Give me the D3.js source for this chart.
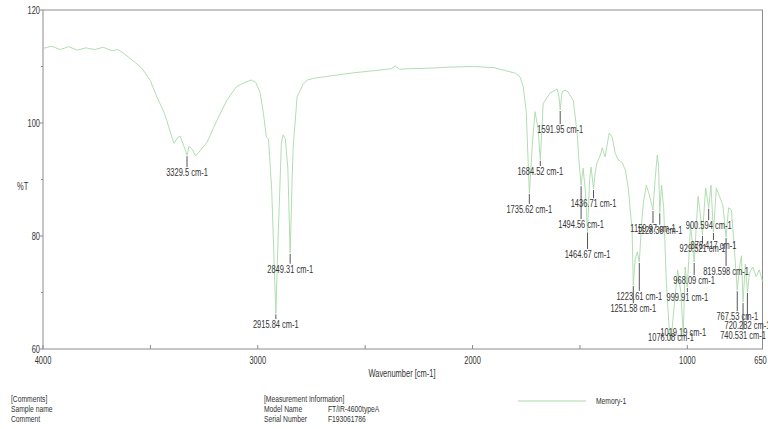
<!DOCTYPE html>
<html>
<head>
<meta charset="utf-8">
<script src="https://cdn.jsdelivr.net/npm/d3@7"></script>
<style>
  body { margin: 0; background: #fff; }
  svg text { font-family: "Liberation Sans", Arial, sans-serif; fill: #333; }
</style>
</head>
<body>
<div id="wrapper"></div>
<script>
// spectrum (wavenumber cm-1, %T)
const wavenumbers = [4000, 3960, 3920, 3880, 3840, 3800, 3760, 3720, 3680, 3650, 3620, 3600, 3560, 3534, 3500, 3470, 3440, 3424, 3400, 3390, 3375, 3362, 3343, 3329.5, 3320, 3305, 3290, 3275, 3236, 3190, 3143, 3100, 3060, 3030, 3010, 2990, 2974, 2960, 2950, 2935, 2915.84, 2905, 2890, 2882, 2872, 2860, 2849.31, 2840, 2835, 2817, 2790, 2770, 2740, 2650, 2550, 2450, 2380, 2360, 2340, 2300, 2200, 2100, 2000, 1900, 1850, 1800, 1778, 1764, 1750, 1735.62, 1720, 1709, 1695, 1684.52, 1671, 1639, 1606, 1597, 1591.95, 1583, 1569, 1555, 1531, 1513, 1505, 1494.56, 1485, 1475, 1464.67, 1455, 1448, 1436.71, 1428, 1420, 1408, 1396, 1383, 1364, 1350, 1336, 1322, 1303, 1289, 1275, 1257, 1251.58, 1243, 1233, 1223.61, 1214, 1205, 1191, 1177, 1159.97, 1150, 1140, 1134, 1128.38, 1120, 1110, 1098, 1085, 1076.08, 1065, 1045, 1030, 1019.19, 1010, 999.91, 985, 968.09, 950, 940, 929.521, 915, 900.594, 890, 878.417, 865, 850, 835, 819.598, 808, 795, 785, 767.53, 755, 748, 740.531, 730, 720.282, 710, 695, 680, 665, 650];
const transmittance = [113.2, 113.6, 113.0, 113.5, 112.9, 113.3, 113.0, 113.4, 112.8, 113.0, 112.2, 111.6, 110.4, 109.4, 107.5, 104.6, 102.2, 100.5, 97.5, 96.4, 97.3, 97.7, 95.8, 94.3, 95.9, 95.3, 94.2, 94.8, 96.6, 100.5, 104.1, 106.4, 107.2, 107.6, 107.2, 105.5, 101.8, 97.5, 97.2, 88, 66.3, 80, 96.5, 97.9, 97.2, 92, 77, 90, 95.8, 104.6, 106.8, 107.6, 107.9, 108.4, 108.9, 109.3, 109.6, 110.1, 109.5, 109.6, 109.7, 109.9, 110.0, 109.8, 109.3, 108.8, 108.1, 106.4, 102, 87.6, 97, 102, 99, 93.5, 103.5, 105.3, 106, 104.5, 102.3, 105.5, 105.8, 105.5, 104, 98.2, 93.5, 89, 92, 88, 80.8, 90, 92.2, 88.3, 91.5, 93, 94, 95.6, 94, 98.2, 97.5, 94.7, 93.5, 93, 91.7, 88.5, 81, 71.3, 75.8, 77.2, 75.4, 81.6, 85.8, 89, 87.3, 84.6, 90, 94.3, 92.5, 84.2, 89, 85, 72, 64, 61.5, 66, 74, 70, 62.5, 74.5, 71, 82, 75.4, 87, 84, 80.2, 88.5, 85, 89, 80.7, 88.5, 87, 85.5, 79.8, 85, 84.6, 80, 70.4, 75, 76.5, 68.3, 75, 70.1, 73.5, 74.5, 72.8, 74, 72];

// peak picks
const peakLabels = ["3329.5", "2915.84", "2849.31", "1735.62", "1684.52", "1591.95", "1494.56", "1464.67", "1436.71", "1251.58", "1223.61", "1159.97", "1128.38", "1076.08", "1019.19", "999.91", "968.09", "929.521", "900.594", "878.417", "819.598", "767.53", "740.531", "720.282"];
const peakTransmittance = [94.3, 66.3, 77, 87.6, 93.5, 102.3, 89, 80.8, 88.3, 71.3, 75.4, 84.6, 84.2, 61.5, 62.5, 71, 75.4, 80.2, 85, 80.7, 79.8, 70.4, 68.3, 70.1];
const peakLabelLevels = [90.6, 63.7, 73.5, 84.1, 90.8, 98.2, 81.4, 76.1, 85.1, 66.5, 68.7, 80.7, 80.4, 61.4, 62.3, 68.5, 71.5, 77.2, 81.2, 77.7, 73.1, 65.1, 61.8, 63.5];

const yTicks = [60, 80, 100, 120];
const yMinorTicks = [70, 90, 110];
const xTicks = [4000, 3000, 2000, 1000, 650];
const xMinorTicks = [3500, 2500, 1500];

const commentLines = ["[Comments]", "Sample name", "Comment"];
const infoKeys = ["[Measurement Information]", "Model Name", "Serial Number"];
const infoValues = ["", "FT/IR-4600typeA", "F193061786"];
const seriesName = "Memory-1";

const width = 768, height = 429;
const margin = { top: 10, right: 5.5, bottom: 80, left: 43 };
const lineColor = "#a9d9a9";
const axisColor = "#8c8c8c";
const squeeze = 0.75;

const svg = d3.select("#wrapper").append("svg")
    .attr("width", width)
    .attr("height", height);

const x = d3.scaleLinear()
    .domain([4000, 650])
    .range([margin.left, width - margin.right]);
const y = d3.scaleLinear()
    .domain([60, 120])
    .range([height - margin.bottom, margin.top]);

function label(g, tx, ty, str, size, anchor) {
    return g.append("text")
        .attr("transform", `translate(${tx},${ty}) scale(${squeeze},1)`)
        .attr("font-size", size)
        .attr("text-anchor", anchor || "start")
        .text(str);
}

// frame
svg.append("rect")
    .attr("x", x(4000)).attr("y", y(120))
    .attr("width", x(650) - x(4000)).attr("height", y(60) - y(120))
    .attr("fill", "none").attr("stroke", axisColor).attr("stroke-width", 1);

// y axis ticks
const yAxis = svg.append("g");
yAxis.selectAll("line.maj").data(yTicks).join("line")
    .attr("x1", x(4000) - 3).attr("x2", x(4000))
    .attr("y1", d => y(d)).attr("y2", d => y(d))
    .attr("stroke", axisColor);
yAxis.selectAll("line.min").data(yMinorTicks).join("line")
    .attr("x1", x(4000) - 2).attr("x2", x(4000))
    .attr("y1", d => y(d)).attr("y2", d => y(d))
    .attr("stroke", axisColor);
yTicks.forEach(t => label(yAxis, x(4000) - 3, y(t) + 3.5, t, 10, "end"));
label(svg, 17, 190, "%T", 10, "start");

// x axis ticks
const xAxis = svg.append("g");
xAxis.selectAll("line").data(xTicks.concat(xMinorTicks)).join("line")
    .attr("x1", d => x(d)).attr("x2", d => x(d))
    .attr("y1", y(60) - 4).attr("y2", y(60))
    .attr("stroke", axisColor);
xTicks.forEach(t => label(xAxis, x(t) - (t == 650 ? 2 : 0), y(60) + 15, t, 10, "middle"));
label(svg, 402, 377, "Wavenumber [cm-1]", 10, "middle");

// spectrum
const line = d3.line()
    .x((d, i) => x(wavenumbers[i]))
    .y(d => y(d));
svg.append("path")
    .datum(transmittance)
    .attr("d", line)
    .attr("fill", "none")
    .attr("stroke", lineColor)
    .attr("stroke-width", 0.9);

// peak picks
const peaks = svg.append("g");
peakLabels.forEach((p, i) => {
    const px = x(+p);
    const top = y(peakTransmittance[i]) + 1;
    const bottom = y(peakLabelLevels[i]) - 9;
    if (bottom - top > 1) {
        peaks.append("line")
            .attr("x1", px).attr("x2", px)
            .attr("y1", top).attr("y2", bottom)
            .attr("stroke", "#555").attr("stroke-width", 1);
    }
    label(peaks, px, y(peakLabelLevels[i]), p + " cm-1", 10, "middle");
});

// info block
const info = svg.append("g");
commentLines.forEach((t, i) => label(info, 11, 402 + i * 10, t, 9));
infoKeys.forEach((t, i) => label(info, 264, 402 + i * 10, t, 9));
infoValues.forEach((t, i) => { if (t) label(info, 328, 402 + i * 10, t, 9); });

// legend
svg.append("line")
    .attr("x1", 518).attr("x2", 586)
    .attr("y1", 401).attr("y2", 401)
    .attr("stroke", lineColor).attr("stroke-width", 1);
label(svg, 596, 404, seriesName, 9);
</script>
</body>
</html>
